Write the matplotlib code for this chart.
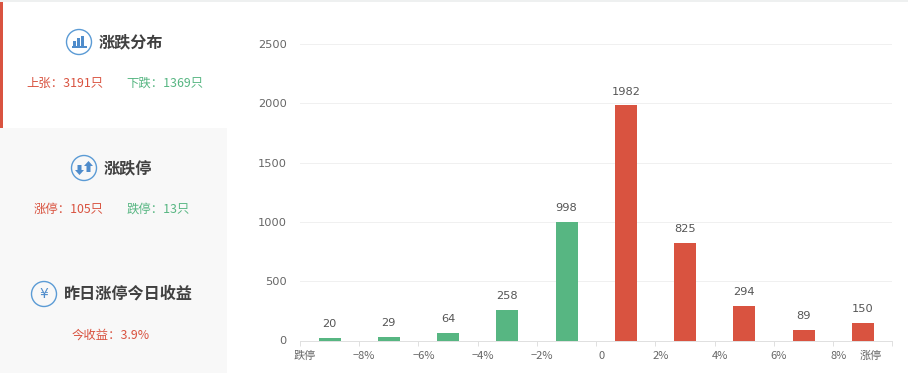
import matplotlib
matplotlib.use("Agg")
import matplotlib.pyplot as plt
from matplotlib.patches import Rectangle, Circle, FancyArrow

plt.rcParams['font.family'] = ['Noto Sans CJK SC', 'DejaVu Sans']

categories = ['跌停~-8', '-8~-6', '-6~-4', '-4~-2', '-2~0', '0~2', '2~4', '4~6', '6~8', '8~涨停']
values = [20, 29, 64, 258, 998, 1982, 825, 294, 89, 150]
tick_labels = ['跌停', '−8%', '−6%', '−4%', '−2%', '0', '2%', '4%', '6%', '8%', '涨停']
y_ticks = [0, 500, 1000, 1500, 2000, 2500]

RED = '#d95340'
GREEN = '#57b682'
BLUE = '#5b9bd5'
W, H = 908, 373

fig = plt.figure(figsize=(W / 100, H / 100), dpi=100, facecolor='white')

# page overlay in pixel coordinates
bg = fig.add_axes([0, 0, 1, 1])
bg.set_xlim(0, W)
bg.set_ylim(H, 0)
bg.axis('off')
bg.add_patch(Rectangle((0, 0), W, 2, color='#eef0f0', lw=0))
bg.add_patch(Rectangle((0, 128), 227, H - 128, color='#f8f8f8', lw=0))
bg.add_patch(Rectangle((0, 2), 3, 126, color=RED, lw=0))


def icon(cx, cy):
    bg.add_patch(Circle((cx, cy), 12.5, fc='none', ec=BLUE, lw=1.0))


icon(79, 42)
for dx, h in zip([-5, -1, 3], [5, 8, 10]):
    bg.add_patch(Rectangle((79 + dx - 1.2, 45.5 - h), 2.8, h, color='#4f8ccb', lw=0))
bg.add_patch(Rectangle((72, 45.5), 14.5, 2, color='#4f8ccb', lw=0))

icon(84, 168)
bg.add_patch(FancyArrow(79.5, 165, 0, 10, width=4, head_width=9, head_length=5,
                        length_includes_head=True, color='#4f8ccb', lw=0))
bg.add_patch(FancyArrow(88.5, 172, 0, -11, width=4, head_width=9, head_length=5,
                        length_includes_head=True, color='#4f8ccb', lw=0))

icon(44, 294)
bg.text(44, 294, '¥', ha='center', va='center', fontsize=10, color='#4f8ccb',
        family=['DejaVu Sans'])

TITLE = '#404040'
bg.text(131, 42.5, '涨跌分布', ha='center', va='center', fontsize=11.6, color=TITLE, fontweight='bold')
bg.text(128, 168.5, '涨跌停', ha='center', va='center', fontsize=11.6, color=TITLE, fontweight='bold')
bg.text(128, 294, '昨日涨停今日收益', ha='center', va='center', fontsize=11.6, color=TITLE, fontweight='bold')

SMALL = 8.9
bg.text(65, 83.5, '上张：3191只', ha='center', va='center', fontsize=SMALL, color=RED)
bg.text(164.5, 83.5, '下跌：1369只', ha='center', va='center', fontsize=SMALL, color=GREEN)
bg.text(69, 209.5, '涨停：105只', ha='center', va='center', fontsize=SMALL, color=RED)
bg.text(158, 209.5, '跌停：13只', ha='center', va='center', fontsize=SMALL, color=GREEN)
bg.text(111, 335.5, '今收益：3.9%', ha='center', va='center', fontsize=SMALL, color=RED)

# chart
x0, x1 = 300.0, 892.4
y0, y1 = 340.5, 44.0
ax = fig.add_axes([x0 / W, 1 - y0 / H, (x1 - x0) / W, (y0 - y1) / H], facecolor='none')
positions = list(range(len(categories)))
colors = [GREEN] * 5 + [RED] * 5
ax.bar(positions, values, width=0.372, color=colors, linewidth=0, zorder=3)
ax.set_xlim(-0.5, len(categories) - 0.5)
ax.set_ylim(0, 2500)

for p, v in zip(positions, values):
    ax.annotate(str(v), (p, v), xytext=(0, 10), textcoords='offset points',
                ha='center', va='center', fontsize=8.2, color='#555555',
                family=['DejaVu Sans'])

ax.set_yticks(y_ticks)
ax.set_yticklabels([str(t) for t in y_ticks], fontsize=8.2, color='#666666', family=['DejaVu Sans'])
ax.yaxis.grid(True, color='#f0f0f0', lw=0.72, zorder=0)
ax.tick_params(axis='y', length=0, pad=9.5)

boundaries = [p - 0.5 for p in positions] + [positions[-1] + 0.5]
ax.set_xticks(boundaries)
ax.set_xticklabels([''] * len(boundaries))
ax.tick_params(axis='x', which='major', length=3.6, width=0.72, color='#e0e0e0')

offset = 5.0 / 59.24
label_pos = [b + offset for b in boundaries[:-1]] + [boundaries[-1] - 0.36]
ax.set_xticks(label_pos, minor=True)
ax.set_xticklabels(tick_labels, minor=True, fontsize=8, color='#666666')
ax.tick_params(axis='x', which='minor', length=0, pad=7.5)

for s in ['top', 'right', 'left']:
    ax.spines[s].set_visible(False)
ax.spines['bottom'].set_color('#e0e0e0')
ax.spines['bottom'].set_linewidth(0.72)

fig.savefig('out.png', dpi=100, facecolor='white')
